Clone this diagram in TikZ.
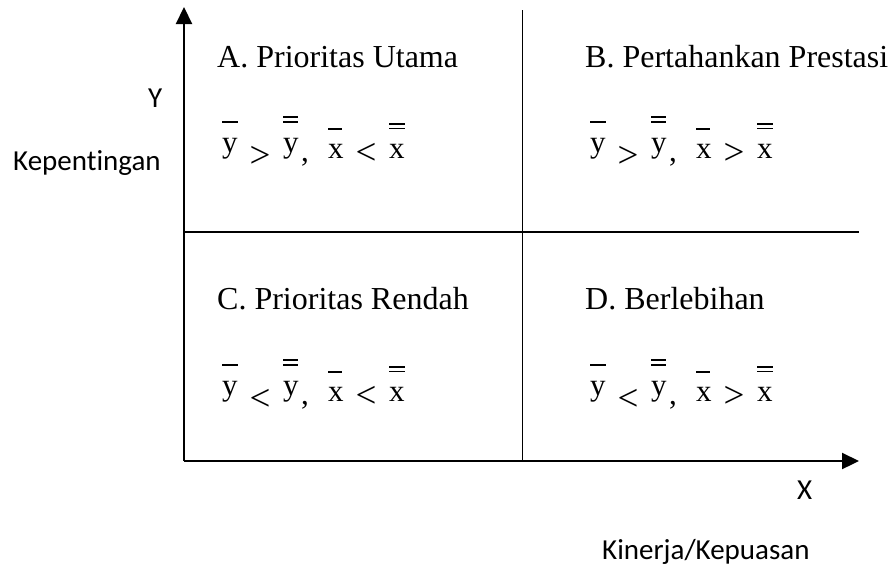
\documentclass[tikz,border=0pt]{standalone}
\usepackage{fontspec}
\setmainfont{Liberation Serif}
\newfontfamily\calfont[Ligatures=NoCommon]{Carlito}
\usetikzlibrary{arrows.meta}
\tikzset{
  axisline/.style={line width=2.2pt, -{Triangle[width=16pt,length=17pt]}},
  divline/.style={line width=1.7pt},
  title/.style={anchor=base west, inner sep=0pt, font=\fontsize{32}{38}\selectfont},
  sanslabel/.style={anchor=base west, inner sep=0pt, font=\calfont\fontsize{29}{34}\selectfont},
  fm/.style={anchor=base west, inner sep=0pt, font=\fontsize{31}{36}\selectfont},
  rel/.style={anchor=base, inner sep=0pt, font=\fontsize{37}{42}\selectfont},
  barline/.style={line width=1.3pt}
}
\newcommand\quadformula[5]{%
  \begin{scope}[shift={(#2,#3)}]
    \node[fm] (#1ya) at (222,152) {y};
    \draw[barline] (222,122) -- (238,122);
    \node[rel] (#1ra) at (260,167) {#4};
    \node[fm] (#1yb) at (283,152) {y};
    \draw[barline] (283,117) -- (298,117);
    \draw[barline] (283,122) -- (298,122);
    \node[fm] (#1cm) at (301,161) {,};
    \node[fm] (#1xa) at (328,158) {x};
    \draw[barline] (328,129) -- (342,129);
    \node[rel] (#1rb) at (366,164) {#5};
    \node[fm] (#1xb) at (389,158) {x};
    \draw[barline] (389,124) -- (405,124);
    \draw[barline] (389,128.5) -- (405,128.5);
  \end{scope}}
\begin{document}
\begin{tikzpicture}[x=1pt,y=-1pt]
  \useasboundingbox (0,0) rectangle (890,566);
  % axes
  \coordinate (O) at (184,461);
  \coordinate (Ytip) at (184,7);
  \coordinate (Xtip) at (859,461);
  \draw[axisline] (O) -- (Ytip);
  \draw[axisline] (O) -- (Xtip);
  % dividers
  \coordinate (Vtop) at (522.5,10);
  \coordinate (Vbot) at (522.5,461);
  \coordinate (Hl) at (184,232);
  \coordinate (Hr) at (859,232);
  \draw[divline] (Vtop) -- (Vbot);
  \draw[divline] (Hl) -- (Hr);
  % titles
  \node[title] (tA) at (217,67) {A. Prioritas Utama};
  \node[title] (tB) at (585,67) {B. Pertahankan Prestasi};
  \node[title] (tC) at (217,309) {C. Prioritas Rendah};
  \node[title] (tD) at (585,309) {D. Berlebihan};
  % formulas
  \quadformula{A}{0}{0}{>}{<}
  \quadformula{B}{368}{0}{>}{>}
  \quadformula{C}{0}{243}{<}{<}
  \quadformula{D}{368}{243}{<}{>}
  % axis labels
  \node[sanslabel] (ly) at (148,107) {Y};
  \node[sanslabel] (lkep) at (13,170) {Kepentingan};
  \node[sanslabel] (lx) at (797,499) {X};
  \node[sanslabel] (lkin) at (602,559) {Kinerja/Kepuasan};
\end{tikzpicture}
\end{document}
